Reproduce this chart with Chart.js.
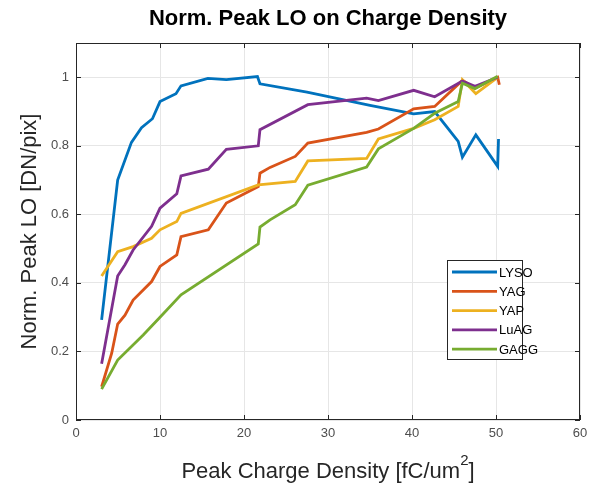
<!DOCTYPE html>
<html>
<head>
<meta charset="utf-8">
<script src="https://cdn.jsdelivr.net/npm/chart.js@4.4.1/dist/chart.umd.min.js"></script>
<style>
  html, body { margin: 0; padding: 0; background: #fff; }
  #wrap { width: 597px; height: 494px; position: relative; }
</style>
</head>
<body>
<div id="wrap"><canvas id="chart" width="597" height="494"></canvas></div>
<script>
// values
const lysoX = [3.05, 4.96, 6.6, 7.8, 9.1, 10.0, 11.9, 12.5, 15.7, 17.9, 21.6, 21.9, 27.5, 35.0, 40.2, 42.7, 45.5, 46.0, 47.6, 50.2, 50.3];
const lysoY = [0.292, 0.70, 0.81, 0.853, 0.879, 0.929, 0.952, 0.975, 0.997, 0.993, 1.002, 0.981, 0.957, 0.918, 0.893, 0.900, 0.813, 0.767, 0.832, 0.740, 0.820];

const yagX = [3.05, 4.25, 4.96, 5.83, 6.8, 9.0, 10.0, 12.0, 12.5, 15.75, 17.9, 21.7, 21.9, 23.1, 26.1, 27.6, 34.6, 36.0, 40.2, 42.7, 46.0, 47.5, 50.2, 50.4];
const yagY = [0.097, 0.195, 0.28, 0.306, 0.35, 0.404, 0.448, 0.482, 0.535, 0.555, 0.633, 0.681, 0.72, 0.737, 0.769, 0.808, 0.839, 0.849, 0.908, 0.915, 0.991, 0.968, 1.0, 0.978];

const yapX = [3.05, 4.96, 6.8, 9.0, 10.0, 12.0, 12.5, 21.7, 26.1, 27.6, 34.6, 36.0, 40.2, 42.7, 45.5, 46.0, 47.6, 50.2];
const yapY = [0.42, 0.491, 0.506, 0.530, 0.555, 0.579, 0.603, 0.686, 0.696, 0.756, 0.763, 0.82, 0.851, 0.876, 0.915, 0.993, 0.952, 1.0];

const luagX = [3.05, 4.96, 5.83, 6.8, 9.0, 10.0, 12.0, 12.5, 15.75, 17.9, 21.7, 21.9, 27.6, 34.6, 36.0, 40.2, 42.7, 46.0, 47.5, 50.2];
const luagY = [0.164, 0.42, 0.453, 0.496, 0.565, 0.618, 0.66, 0.712, 0.732, 0.79, 0.80, 0.847, 0.92, 0.939, 0.932, 0.962, 0.943, 0.989, 0.974, 1.0];

const gaggX = [3.05, 4.96, 8.0, 10.0, 12.5, 21.7, 21.9, 23.1, 26.1, 27.6, 34.6, 36.0, 40.2, 42.7, 45.5, 46.0, 47.5, 50.2];
const gaggY = [0.09, 0.175, 0.248, 0.30, 0.365, 0.514, 0.563, 0.584, 0.628, 0.685, 0.738, 0.791, 0.851, 0.895, 0.929, 0.983, 0.967, 1.003];

const seriesNames = ['LYSO', 'YAG', 'YAP', 'LuAG', 'GAGG'];
const seriesColors = ['#0072BD', '#D95319', '#EDB120', '#7E2F8E', '#77AC30'];
const xTicks = [0, 10, 20, 30, 40, 50, 60];
const yTicks = [0, 0.2, 0.4, 0.6, 0.8, 1];

function pts(xs, ys) {
    return xs.map((x, i) => ({ x: x, y: ys[i] }));
}

const allData = [pts(lysoX, lysoY), pts(yagX, yagY), pts(yapX, yapY), pts(luagX, luagY), pts(gaggX, gaggY)];

const datasets = allData.map((d, i) => ({
    label: seriesNames[i],
    data: d,
    borderColor: seriesColors[i],
    backgroundColor: seriesColors[i],
    borderWidth: 2.8,
    pointRadius: 0,
    tension: 0,
    fill: false,
    order: 5 - i
}));

const FONT = '"Liberation Sans", Arial, Helvetica, sans-serif';

// box, inward ticks, titles and legend in MATLAB style
const decorPlugin = {
    id: 'decor',
    afterDraw(chart) {
        const ctx = chart.ctx;
        const a = chart.chartArea;
        const xs = chart.scales.x, ys = chart.scales.y;
        ctx.save();
        ctx.strokeStyle = '#262626';
        ctx.lineWidth = 1;
        ctx.strokeRect(a.left + 0.5, a.top + 0.5, a.right - a.left - 1, a.bottom - a.top - 1);
        const tl = 5;
        ctx.beginPath();
        xTicks.forEach(v => {
            const px = Math.round(xs.getPixelForValue(v)) + 0.5;
            ctx.moveTo(px, a.bottom); ctx.lineTo(px, a.bottom - tl);
            ctx.moveTo(px, a.top); ctx.lineTo(px, a.top + tl);
        });
        yTicks.forEach(v => {
            const py = Math.round(ys.getPixelForValue(v)) + 0.5;
            ctx.moveTo(a.left, py); ctx.lineTo(a.left + tl, py);
            ctx.moveTo(a.right, py); ctx.lineTo(a.right - tl, py);
        });
        ctx.stroke();

        // title
        ctx.fillStyle = '#000';
        ctx.font = 'bold 22px ' + FONT;
        ctx.textAlign = 'center';
        ctx.textBaseline = 'middle';
        ctx.fillText('Norm. Peak LO on Charge Density', (a.left + a.right) / 2, 19);

        // x axis title with superscript 2
        ctx.fillStyle = '#262626';
        ctx.font = '22px ' + FONT;
        const mainTxt = 'Peak Charge Density [fC/um';
        ctx.font = '15px ' + FONT;
        const supW = ctx.measureText('2').width;
        ctx.font = '22px ' + FONT;
        const mainW = ctx.measureText(mainTxt).width;
        const endW = ctx.measureText(']').width;
        const total = mainW + supW + endW;
        let sx = (a.left + a.right) / 2 - total / 2;
        ctx.textAlign = 'left';
        ctx.fillText(mainTxt, sx, 472);
        ctx.font = '15px ' + FONT;
        ctx.fillText('2', sx + mainW, 461);
        ctx.font = '22px ' + FONT;
        ctx.fillText(']', sx + mainW + supW, 472);

        ctx.textAlign = 'center';
        ctx.save();
        ctx.translate(30, (a.top + a.bottom) / 2);
        ctx.rotate(-Math.PI / 2);
        ctx.fillText('Norm. Peak LO [DN/pix]', 0, 0);
        ctx.restore();

        // legend
        const lx = 447, ly = 260, lw = 75, lh = 99;
        ctx.fillStyle = '#fff';
        ctx.fillRect(lx, ly, lw, lh);
        ctx.strokeStyle = '#262626';
        ctx.lineWidth = 1;
        ctx.strokeRect(lx + 0.5, ly + 0.5, lw, lh);
        ctx.font = '13px ' + FONT;
        ctx.textAlign = 'left';
        chart.data.datasets.forEach((ds, i) => {
            const yy = ly + 12 + i * 19.3;
            ctx.strokeStyle = ds.borderColor;
            ctx.lineWidth = 2.8;
            ctx.beginPath();
            ctx.moveTo(lx + 5, yy); ctx.lineTo(lx + 50, yy);
            ctx.stroke();
            ctx.fillStyle = '#000';
            ctx.fillText(ds.label, lx + 52, yy + 1);
        });
        ctx.restore();
    }
};

new Chart(document.getElementById('chart'), {
    type: 'line',
    data: { datasets: datasets },
    options: {
        responsive: false,
        animation: false,
        layout: { padding: { top: 43, right: 17, left: 0, bottom: 0 } },
        plugins: { legend: { display: false }, tooltip: { enabled: false } },
        scales: {
            x: {
                type: 'linear',
                min: 0, max: 60,
                ticks: { stepSize: 10, padding: 6, color: '#4d4d4d', font: { family: FONT, size: 13 }, maxRotation: 0 },
                grid: { color: '#e6e6e6', drawTicks: false },
                border: { display: false },
                afterFit(s) { s.height = 74; }
            },
            y: {
                min: 0, max: 1.1,
                ticks: {
                    stepSize: 0.2, padding: 7, color: '#4d4d4d', font: { family: FONT, size: 13 },
                    callback: v => String(Math.round(v * 10) / 10)
                },
                grid: { color: '#e6e6e6', drawTicks: false },
                border: { display: false },
                afterBuildTicks(s) { s.ticks = yTicks.map(v => ({ value: v })); },
                afterFit(s) { s.width = 76; }
            }
        }
    },
    plugins: [decorPlugin]
});
</script>
</body>
</html>
